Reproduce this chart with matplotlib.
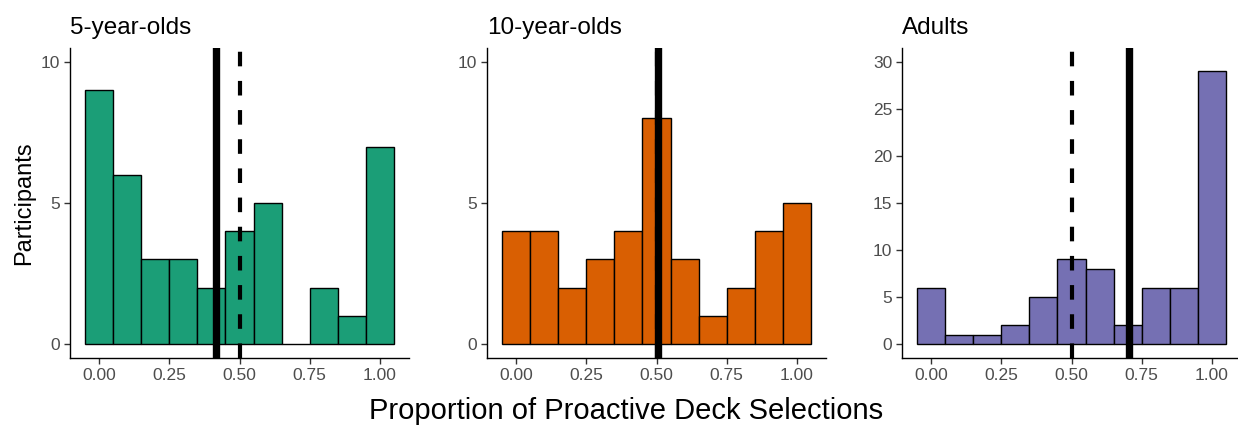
import matplotlib.pyplot as plt

plt.rcParams["font.family"] = ["Liberation Sans", "DejaVu Sans"]

# bin centres of the histogram (binwidth 0.1)
bin_centres = [0.0, 0.1, 0.2, 0.3, 0.4, 0.5, 0.6, 0.7, 0.8, 0.9, 1.0]

counts_5yo = [9, 6, 3, 3, 2, 4, 5, 0, 2, 1, 7]
counts_10yo = [4, 4, 2, 3, 4, 8, 3, 1, 2, 4, 5]
counts_adults = [6, 1, 1, 2, 5, 9, 8, 2, 6, 6, 29]

titles = ["5-year-olds", "10-year-olds", "Adults"]
colors = ["#1B9E77", "#D95F02", "#7570B3"]
means = [0.415, 0.507, 0.706]
chance = 0.5
y_limits = [(-0.5, 10.5), (-0.5, 10.5), (-1.5, 31.5)]
y_ticks = [[0, 5, 10], [0, 5, 10], [0, 5, 10, 15, 20, 25, 30]]
x_ticks = [0.0, 0.25, 0.5, 0.75, 1.0]
x_ticklabels = ["0.00", "0.25", "0.50", "0.75", "1.00"]

W, H = 1238, 426
fig = plt.figure(figsize=(W / 100, H / 100), dpi=100)

panel_lefts = [70, 487, 902]
panel_w = 339
panel_top, panel_bottom = 48, 358

all_counts = [counts_5yo, counts_10yo, counts_adults]
for i, counts in enumerate(all_counts):
    ax = fig.add_axes([panel_lefts[i] / W, 1 - panel_bottom / H,
                       panel_w / W, (panel_bottom - panel_top) / H])
    ax.bar(bin_centres, counts, width=0.1, color=colors[i],
           edgecolor="black", linewidth=1.0, zorder=2)
    # dashed = chance level, solid = group mean
    ax.axvline(chance, color="black", linewidth=3.0,
               linestyle=(0, (3.5, 3.5)), zorder=3)
    ax.axvline(means[i], color="black", linewidth=5.3, zorder=4)
    ax.set_xlim(-0.105, 1.105)
    ax.set_ylim(*y_limits[i])
    ax.set_xticks(x_ticks)
    ax.set_xticklabels(x_ticklabels)
    ax.set_yticks(y_ticks[i])
    for side in ["top", "right"]:
        ax.spines[side].set_visible(False)
    for side in ["left", "bottom"]:
        ax.spines[side].set_linewidth(1.0)
    ax.tick_params(axis="both", length=4, width=1.0, color="#333333",
                   labelsize=12.5, labelcolor="#4D4D4D", pad=3)
    ax.set_title(titles[i], loc="left", fontsize=17.5, pad=10)
    if i == 0:
        ax.set_ylabel("Participants", fontsize=17, labelpad=4)

fig.text(626 / W, 0.035, "Proportion of Proactive Deck Selections",
         ha="center", va="center", fontsize=21)

fig.savefig("out.png", dpi=100)
